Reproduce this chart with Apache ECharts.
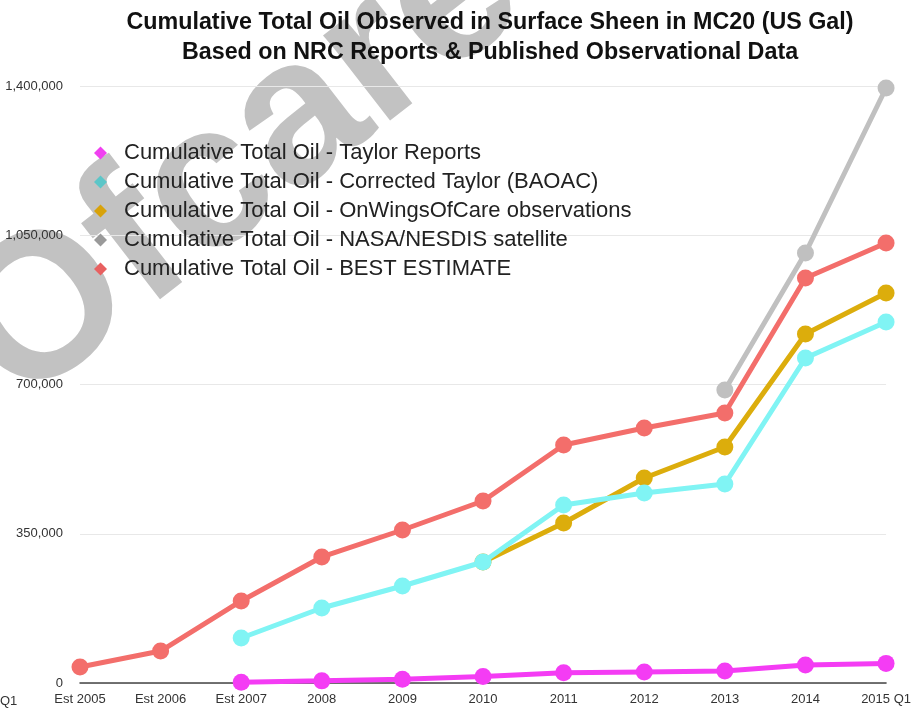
<!DOCTYPE html>
<html>
<head>
<meta charset="utf-8">
<script src="https://cdn.jsdelivr.net/npm/echarts@6/dist/echarts.min.js"></script>
<style>html,body{margin:0;padding:0;background:#fff;}#main{width:914px;height:712px;}</style>
</head>
<body>
<div id="main"></div>
<script>
const categories = ['Est 2005','Est 2006','Est 2007','2008','2009','2010','2011','2012','2013','2014','2015 Q1'];
const yTicks = [0, 350000, 700000, 1050000, 1400000];
const taylorReports = [null, null, 2000, 5000, 9000, 15000, 24000, 26000, 28000, 42000, 46000];
const correctedTaylor = [null, null, 105500, 175900, 227500, 283800, 417400, 445600, 466700, 762100, 846600];
const onWingsOfCare = [null, null, null, null, null, 283800, 375200, 480700, 553400, 818400, 914600];
const nasaNesdis = [null, null, null, null, null, null, null, null, 687100, 1008400, 1395300];
const bestEstimate = [37500, 75000, 192300, 295500, 358800, 426800, 558100, 598000, 633200, 949700, 1031800];
const seriesNames = [
  'Cumulative Total Oil - Taylor Reports',
  'Cumulative Total Oil - Corrected Taylor (BAOAC)',
  'Cumulative Total Oil - OnWingsOfCare observations',
  'Cumulative Total Oil - NASA/NESDIS satellite',
  'Cumulative Total Oil - BEST ESTIMATE'
];
const lineColors = ['#f43cf4', '#80f4f4', '#dcad0c', '#c0c0c0', '#f36e6b'];
const legendColors = ['#f040f0', '#5cc6c8', '#d8a20a', '#9a9a9a', '#e86060'];

const chart = echarts.init(document.getElementById('main'));
function mk(i, data, z) {
  return {
    name: seriesNames[i], type: 'line', data: data, z: z,
    symbol: 'circle', symbolSize: 17, connectNulls: false,
    lineStyle: {color: lineColors[i], width: 5},
    itemStyle: {color: lineColors[i]},
    emphasis: {disabled: true}
  };
}
chart.setOption({
  animation: false,
  backgroundColor: '#fff',
  title: {
    text: 'Cumulative Total Oil Observed in Surface Sheen in MC20 (US Gal)\nBased on NRC Reports & Published Observational Data',
    left: 485, top: 3, textAlign: 'center',
    textStyle: {fontFamily: 'Liberation Sans, Arial, sans-serif', fontSize: 23.3, fontWeight: 'bold', color: '#111', lineHeight: 30}
  },
  graphic: [
    {type: 'text', z: -10, silent: true, x: 47, y: 445, rotation: 0.66,
     style: {text: 'Ofcare', font: 'bold 205px "Liberation Sans", Arial, sans-serif', fill: '#c2c2c2', textAlign: 'left', textVerticalAlign: 'bottom'}},
    {type: 'text', x: 0, y: 701, style: {text: 'Q1', font: '13px "Liberation Sans", Arial, sans-serif', fill: '#333', textVerticalAlign: 'middle'}}
  ],
  legend: {
    orient: 'vertical', left: 89, top: 137, icon: 'diamond', itemWidth: 13, itemHeight: 13, itemGap: 7,
    textStyle: {fontFamily: 'Liberation Sans, Arial, sans-serif', fontSize: 22, color: '#222', lineHeight: 22, padding: [0, 0, 0, 12]},
    data: seriesNames.map((n, i) => ({name: n, itemStyle: {color: legendColors[i]}}))
  },
  grid: {left: 80, right: 27, top: 86, bottom: 29, containLabel: false},
  xAxis: {
    type: 'category', data: categories, boundaryGap: false,
    axisLine: {lineStyle: {color: '#444', width: 1.5}},
    axisTick: {show: false},
    axisLabel: {interval: 0, margin: 10, fontSize: 13, color: '#333', fontFamily: 'Liberation Sans Narrow, Liberation Sans, Arial, sans-serif'},
    splitLine: {show: false}
  },
  yAxis: {
    type: 'value', min: yTicks[0], max: yTicks[yTicks.length - 1], interval: yTicks[1] - yTicks[0],
    axisLine: {show: false}, axisTick: {show: false},
    axisLabel: {margin: 17, fontSize: 13, color: '#333', fontFamily: 'Liberation Sans, Arial, sans-serif',
      formatter: v => v.toLocaleString('en-US')},
    splitLine: {lineStyle: {color: '#e8e8e8', width: 1}}
  },
  series: [
    mk(0, taylorReports, 6),
    mk(1, correctedTaylor, 3),
    mk(2, onWingsOfCare, 2),
    mk(3, nasaNesdis, 4),
    mk(4, bestEstimate, 5)
  ]
});
</script>
</body>
</html>
